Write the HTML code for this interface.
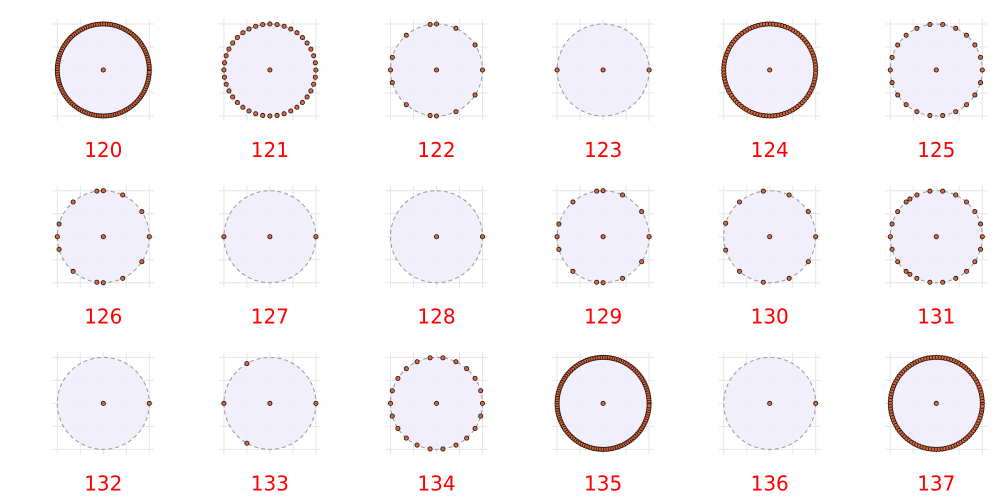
<!DOCTYPE html>
<html><head><meta charset="utf-8"><style>
body{margin:0;background:#fff;}
svg{display:block;font-family:"DejaVu Sans","Liberation Sans",sans-serif;}
</style></head><body>
<svg id="chart" width="1000" height="500"></svg>
<script>
const labels=[120,121,122,123,124,125,126,127,128,129,130,131,132,133,134,135,136,137];
// point angle (degrees) lists per panel; dense panels given by point counts
const denseCounts={120:120,121:40,124:96,135:120,137:100};
const p22=[0,16,33,49,65,82,98,115,131,147,164,180,-16,-33,-49,-65,-82,-98,-115,-131,-147,-164];
const p14=[0,33,65,90,98,131,164,180,-33,-65,-90,-98,-131,-164];
const p11=[0,33,65,98,131,163,-33,-65,-98,-131,-163];
const angles={122:p14,123:[0,180],125:p22,126:p14,127:[0,180],128:[0],129:p14,130:p11,
 131:p22.concat([125,-125]),132:[0],133:[0,180,120,-120],134:p22,136:[0]};
const NS="http://www.w3.org/2000/svg";
const svg=document.getElementById('chart');
const colX=i=>103.3+i*166.6, rowY=j=>70+j*166.7, R=46;
function mk(t,a,parent){const e=document.createElementNS(NS,t);for(const k in a)e.setAttribute(k,a[k]);(parent||svg).appendChild(e);return e;}
labels.forEach((lab,idx)=>{
  const cx=colX(idx%6), cy=rowY(Math.floor(idx/6));
  const g=mk('g',{});
  
  
  for(let k=-2;k<=2;k++){
    mk('line',{x1:cx-51,x2:cx+51,y1:cy+k*23,y2:cy+k*23,stroke:'#e4e4ea','stroke-width':1},g);
    mk('line',{y1:cy-51,y2:cy+51,x1:cx+k*23,x2:cx+k*23,stroke:'#e4e4ea','stroke-width':1},g);
  }
  const c=mk('circle',{cx:cx,cy:cy,r:R,fill:'#f0edfc','fill-opacity':0.9,stroke:'#999','stroke-dasharray':'4,3','stroke-width':1},g);
  
  
  let angs=angles[lab];
  if(!angs){const n=denseCounts[lab];angs=[];for(let k=0;k<n;k++)angs.push(k*360/n);}
  const dense=angs.length>60;
  angs.forEach(a=>{
    const t=a*Math.PI/180;
    const d=mk('circle',{cx:cx+R*Math.cos(t),cy:cy-R*Math.sin(t),r:2.1,fill:'#e0673a',stroke:dense?'#2a1810':'#111','stroke-width':dense?0.9:0.8},g);
    
    
  });
  const cd=mk('circle',{cx:cx,cy:cy,r:2.1,fill:'#e0673a',stroke:'#111','stroke-width':0.8},g);
  
  
  const tx=mk('text',{x:cx,y:cy+87,'text-anchor':'middle','font-size':20,fill:'#ff0000'},g);
  tx.textContent=lab;
  
  
});
</script>
</body></html>
